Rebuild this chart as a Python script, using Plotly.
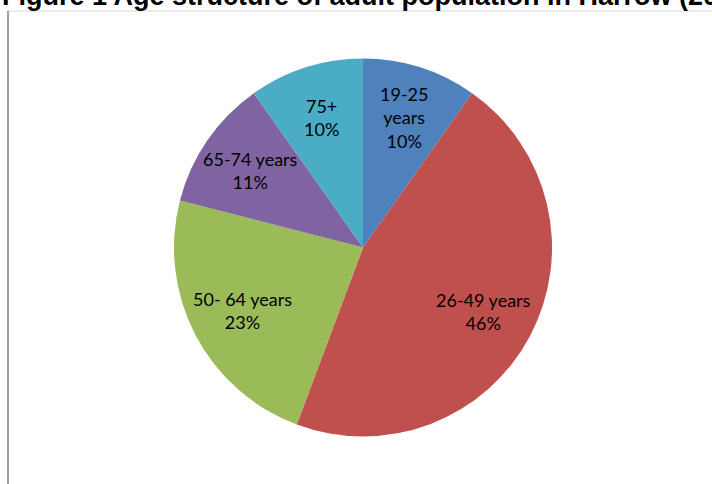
import math
import plotly.graph_objects as go

labels = ["19-25<br>years", "26-49 years", "50- 64 years", "65-74 years", "75+"]
values = [9.8, 45.9, 23.3, 11.2, 9.8]
colors = ["#4F81BD", "#C0504D", "#9BBB59", "#8064A2", "#4BACC6"]
title = "Figure 1 Age structure of adult population in Harrow (2011)"

W, H = 712, 484
L, R, T, B = 174, 160, 58, 47
pw, ph = W - L - R, H - T - B

fig = go.Figure(go.Pie(
    labels=labels, values=values, sort=False, direction="clockwise", rotation=0,
    marker=dict(colors=colors, line=dict(width=0)),
    textinfo="none", hoverinfo="label+percent", showlegend=False,
))

# labels placed at a fixed fraction of radius along each slice's mid angle
total = sum(values)
cum = 0
annotations = []
for lab, v in zip(labels, values):
    mid = (cum + v / 2) / total * 2 * math.pi
    cum += v
    rf = 0.72
    x = 0.5 + rf * 0.5 * math.sin(mid) * ph / pw
    y = 0.5 + rf * 0.5 * math.cos(mid)
    pct = round(v / total * 100)
    annotations.append(dict(
        x=x, y=y, xref="paper", yref="paper", showarrow=False,
        xanchor="center", yanchor="middle",
        text=f"{lab}<br>{pct}%", align="center",
        font=dict(family="Lato", size=18, color="#000000"),
    ))

annotations.append(dict(
    x=(0 - L) / pw, y=(H - B + 4) / ph, xref="paper", yref="paper",
    xanchor="left", yanchor="middle", showarrow=False, text=f"<b>{title}</b>",
    font=dict(family="Liberation Sans, Arial", size=27, color="#000000"),
))

shapes = [
    dict(type="line", xref="paper", yref="paper",
         x0=(8 - L) / pw, x1=(W - L) / pw, y0=(H - B - 11) / ph, y1=(H - B - 11) / ph,
         line=dict(color="#D9D9D9", width=1)),
    dict(type="line", xref="paper", yref="paper",
         x0=(8 - L) / pw, x1=(8 - L) / pw, y0=(H - B - 11) / ph, y1=(H - B - H) / ph,
         line=dict(color="#808080", width=1.5)),
]

fig.update_layout(
    width=W, height=H, margin=dict(l=L, r=R, t=T, b=B),
    paper_bgcolor="white", plot_bgcolor="white",
    annotations=annotations, shapes=shapes,
)
fig.write_html("out.html", config={"displayModeBar": False},
               post_script="document.body.style.margin='0';")
